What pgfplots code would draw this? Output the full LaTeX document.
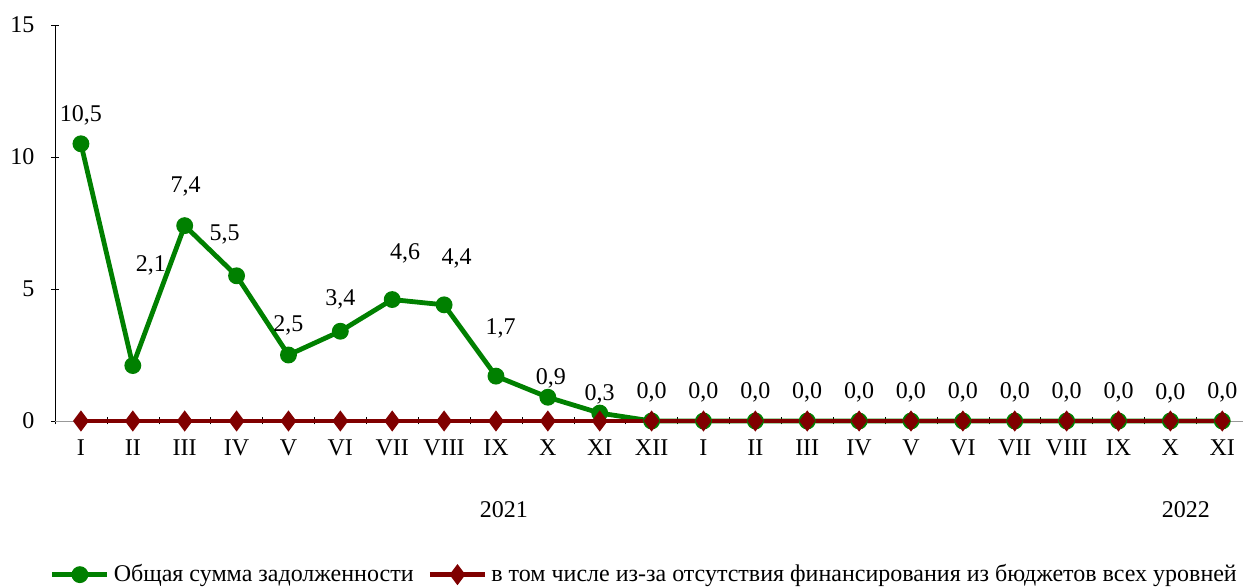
\documentclass[border=0pt]{standalone}
\usepackage{pgfplots}
\pgfplotsset{compat=1.18}
\usepackage{fontspec}
\setmainfont{Liberation Serif}
\newfontfamily\tnr{Liberation Serif}

\definecolor{exgreen}{RGB}{0,128,0}
\definecolor{exred}{RGB}{128,0,0}

\begin{document}
\begin{tikzpicture}
  \begin{axis}[
    scale only axis,
    width=594pt, height=198pt,
    xmin=-0.5, xmax=22.4,
    ymin=0, ymax=15,
    ytick={0,5,10,15},
    xtick={0,...,22},
    xticklabels={I,II,III,IV,V,VI,VII,VIII,IX,X,XI,XII,I,II,III,IV,V,VI,VII,VIII,IX,X,XI},
    minor xtick={-0.5,0.5,...,22.5},
    major x tick style={draw=none},
    minor tick length=3.5pt,
    major tick length=3.5pt,
    tick align=outside,
    axis x line=bottom,
    axis y line=left,
    x axis line style={gray!80,-},
    y axis line style={black,-},
    tick style={black},
    xticklabel style={yshift=-4pt},
    yticklabel style={xshift=-5pt},
    font=\tnr\fontsize{12}{14}\selectfont,
    /pgf/number format/assume math mode=true,
    clip=false,
    legend columns=2,
    legend style={draw=none, at={(0.497,-0.388)}, anchor=center,
      font=\tnr\fontsize{12}{14}\selectfont,
      /tikz/every even column/.append style={column sep=5pt}},
    legend cell align=left,
    legend image code/.code={\draw[mark repeat=2,mark phase=2,#1] plot coordinates {(0pt,0pt)(13.75pt,0pt)(27.5pt,0pt)};},
  ]
    \addplot[exgreen, line width=2.4pt, mark=*, mark size=3pt, mark options={solid,fill=exgreen}] coordinates {
      (0,10.5) (1,2.1) (2,7.4) (3,5.5) (4,2.5) (5,3.4) (6,4.6) (7,4.4) (8,1.7) (9,0.9) (10,0.3)
      (11,0) (12,0) (13,0) (14,0) (15,0) (16,0) (17,0) (18,0) (19,0) (20,0) (21,0) (22,0)
    };
    \addlegendentry{Общая сумма задолженности}
    \addplot[exred, line width=2.4pt, mark=diamond*, mark size=3.3pt, mark options={solid,fill=exred}] coordinates {
      (0,0) (1,0) (2,0) (3,0) (4,0) (5,0) (6,0) (7,0) (8,0) (9,0) (10,0)
      (11,0) (12,0) (13,0) (14,0) (15,0) (16,0) (17,0) (18,0) (19,0) (20,0) (21,0) (22,0)
    };
    \addlegendentry{в том числе из-за отсутствия финансирования из бюджетов всех уровней}
    % data labels
    \addplot[draw=none, mark=none, nodes near coords, point meta=explicit symbolic,
      every node near coord/.style={anchor=center, black, font=\tnr\fontsize{12}{14}\selectfont},
      forget plot] table[meta=lab] {
      x y lab
      0 11.59 10,5
      1.35 5.91 2,1
      2.02 8.90 7,4
      2.77 7.08 5,5
      4 3.64 2,5
      5 4.62 3,4
      6.25 6.36 4,6
      7.24 6.17 4,4
      8.09 3.52 1,7
      9.06 1.63 0,9
      10 1.02 0,3
      11 1.10 0,0
      12 1.10 0,0
      13 1.10 0,0
      14 1.10 0,0
      15 1.10 0,0
      16 1.10 0,0
      17 1.10 0,0
      18 1.10 0,0
      19 1.10 0,0
      20 1.10 0,0
      21 1.05 0,0
      22 1.10 0,0
    };
    \node[font=\tnr\fontsize{12}{14}\selectfont] at (axis cs:8.15,0) [yshift=-44.5pt] {2021};
    \node[font=\tnr\fontsize{12}{14}\selectfont] at (axis cs:21.3,0) [yshift=-44.5pt] {2022};
    \coordinate (bl) at (rel axis cs:0,0);
  \end{axis}
  \pgfresetboundingbox
  \path (bl) ++(-27.5pt,-83pt) rectangle ++(623pt,293.5pt);
\end{tikzpicture}
\end{document}
